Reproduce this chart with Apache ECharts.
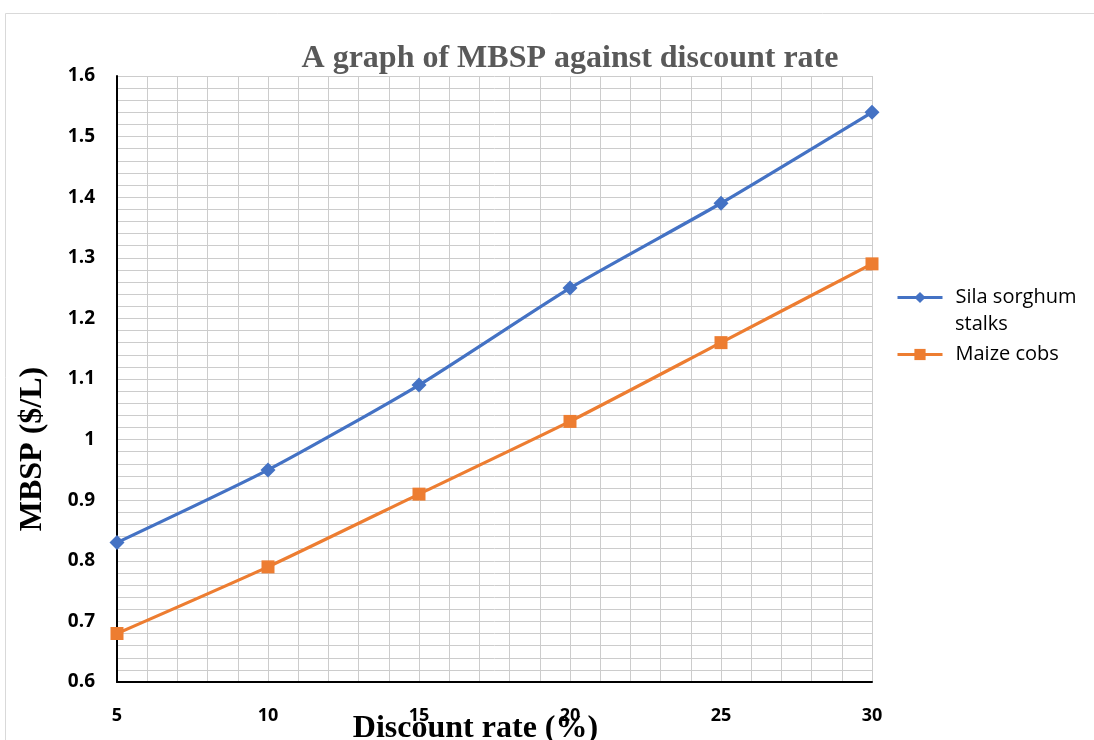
<!DOCTYPE html>
<html>
<head>
<meta charset="utf-8">
<script src="https://cdn.jsdelivr.net/npm/echarts@6/dist/echarts.min.js"></script>
<style>html,body{margin:0;padding:0;background:#fff;}#c{width:1094px;height:740px;}</style>
</head>
<body>
<div id="c"></div>
<script>
const discountRates = [5, 10, 15, 20, 25, 30];
const silaSorghum = [0.83, 0.95, 1.09, 1.25, 1.39, 1.54];
const maizeCobs = [0.68, 0.79, 0.91, 1.03, 1.16, 1.29];
const seriesNames = ['Sila sorghum stalks', 'Maize cobs'];

const chart = echarts.init(document.getElementById('c'));
const gridColor = '#cccccc';
const legendText = {fontFamily: 'Open Sans', fontSize: 20, color: '#000', lineHeight: 27, padding: [0, 0, 0, 8]};
chart.setOption({
  animation: false,
  title: {
    text: 'A graph of MBSP against discount rate',
    left: 565, top: 38, textAlign: 'center',
    textStyle: {fontFamily: 'Liberation Serif', fontWeight: 'bold', fontSize: 32, color: '#595959'}
  },
  graphic: [
    {type: 'rect', shape: {x: 5.5, y: 13.5, width: 1200, height: 800}, style: {fill: 'none', stroke: '#d9d9d9', lineWidth: 1}, silent: true},
    {type: 'text', left: 955, top: 311, style: {text: 'stalks', fontFamily: 'Open Sans', fontSize: 20, fill: '#000', lineHeight: 27}, silent: true}
  ],
  legend: [
    {orient: 'vertical', left: 891, top: 279, itemWidth: 45, itemHeight: 14, textStyle: legendText,
     lineStyle: {width: 3}, data: [seriesNames[0]], formatter: name => name.replace(' stalks', '')},
    {orient: 'vertical', left: 891, top: 336, itemWidth: 45, itemHeight: 14, textStyle: legendText,
     lineStyle: {width: 3}, data: [seriesNames[1]]}
  ],
  grid: {left: 117, right: 222, top: 76, bottom: 58, outerBoundsMode: 'none'},
  xAxis: {
    type: 'value', min: 5, max: 30, interval: 5,
    name: 'Discount rate (%)', nameLocation: 'middle', nameGap: 31, nameMoveOverlap: false,
    nameTextStyle: {fontFamily: 'Liberation Serif', fontWeight: 'bold', fontSize: 32, color: '#000', padding: [0, 38, 0, 0]},
    axisLine: {show: true, lineStyle: {color: '#000', width: 2}},
    axisTick: {show: false},
    axisLabel: {fontFamily: 'Open Sans', fontWeight: 'bold', fontSize: 18, color: '#000', margin: 25},
    splitLine: {show: true, lineStyle: {color: gridColor, width: 1}},
    minorTick: {show: false, splitNumber: 5},
    minorSplitLine: {show: true, lineStyle: {color: gridColor, width: 1}}
  },
  yAxis: {
    type: 'value', min: 0.6, max: 1.6, interval: 0.1,
    name: 'MBSP ($/L)', nameLocation: 'middle', nameGap: 68, nameMoveOverlap: false,
    nameTextStyle: {fontFamily: 'Liberation Serif', fontWeight: 'bold', fontSize: 32, color: '#000', padding: [0, 140, 0, 0]},
    axisLine: {show: true, lineStyle: {color: '#000', width: 2}},
    axisTick: {show: false},
    axisLabel: {fontFamily: 'Open Sans', fontWeight: 'bold', fontSize: 19, color: '#000', margin: 22},
    splitLine: {show: true, lineStyle: {color: gridColor, width: 1}},
    minorTick: {show: false, splitNumber: 5},
    minorSplitLine: {show: true, lineStyle: {color: gridColor, width: 1}}
  },
  series: [
    {name: seriesNames[0], type: 'line', smooth: 0.2, data: discountRates.map((x, i) => [x, silaSorghum[i]]),
     symbol: 'diamond', symbolSize: 15, color: '#4472C4', lineStyle: {width: 3.25}, itemStyle: {color: '#4472C4'}},
    {name: seriesNames[1], type: 'line', smooth: 0.2, data: discountRates.map((x, i) => [x, maizeCobs[i]]),
     symbol: 'rect', symbolSize: 13, color: '#ED7D31', lineStyle: {width: 3.25}, itemStyle: {color: '#ED7D31'}}
  ]
});
</script>
</body>
</html>
